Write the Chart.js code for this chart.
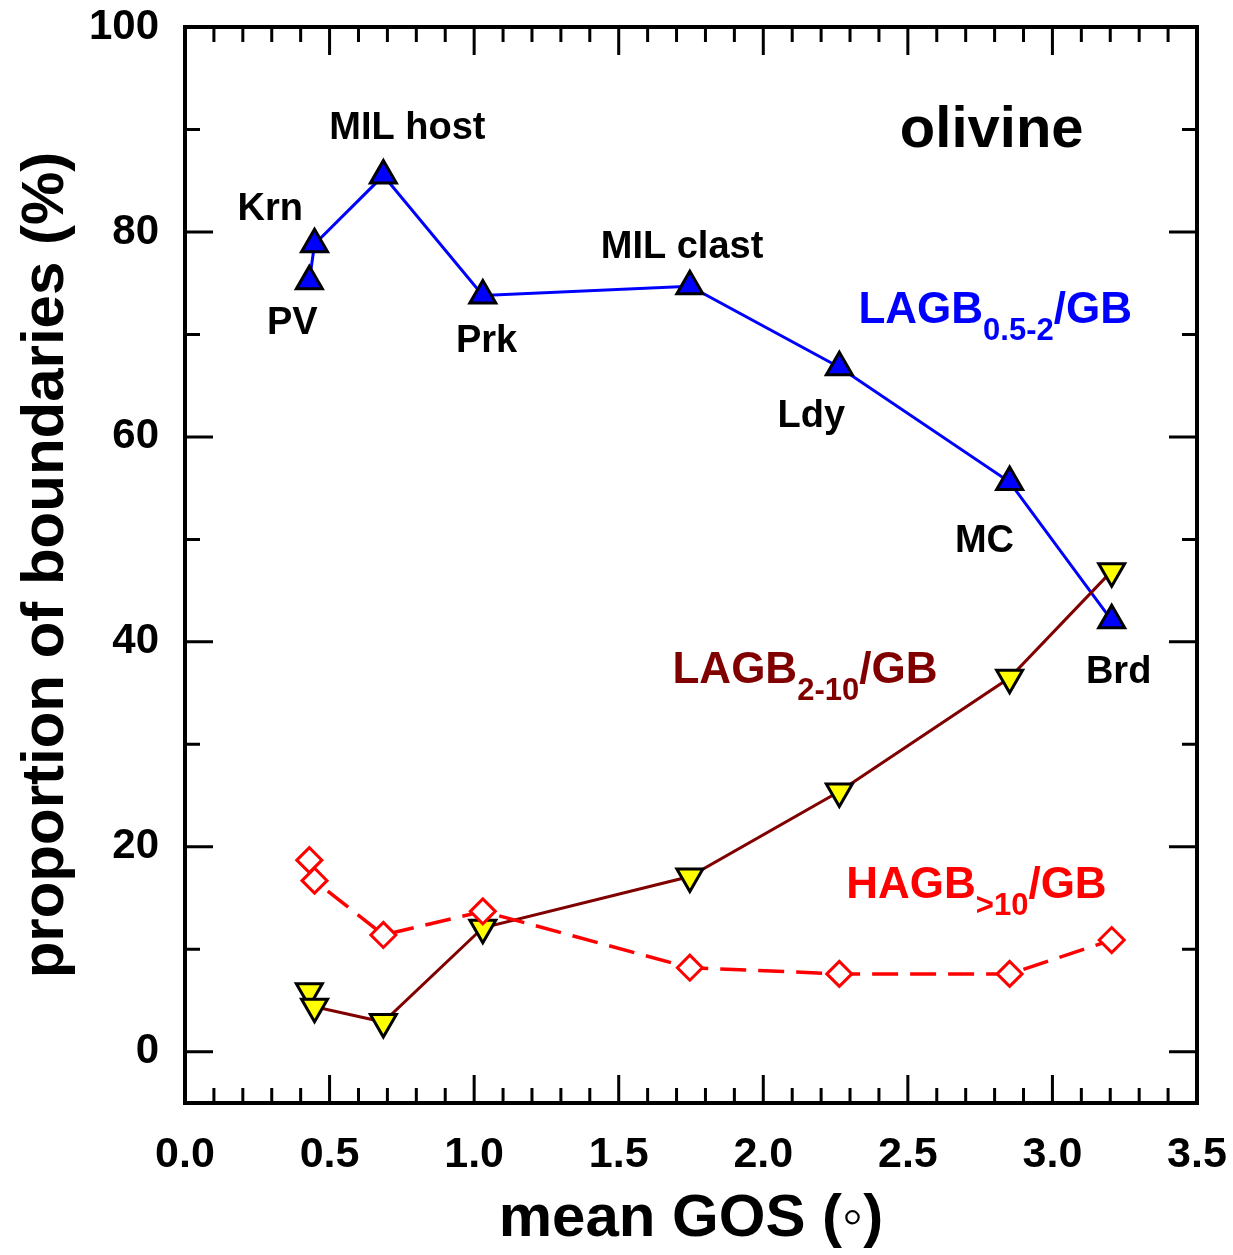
<!DOCTYPE html>
<html>
<head>
<meta charset="utf-8">
<script src="https://cdn.jsdelivr.net/npm/chart.js@4.4.1/dist/chart.umd.min.js"></script>
<style>
  html, body { margin: 0; padding: 0; background: #fff; }
  #contenedor { width: 1233px; height: 1255px; }
</style>
</head>
<body>
<div id="contenedor"><canvas id="grafico"></canvas></div>
<script>
// Muestras y GOS medio (grados)
const muestras = ["PV", "Krn", "MIL host", "Prk", "MIL clast", "Ldy", "MC", "Brd"];
const gosMedio = [0.43, 0.448, 0.686, 1.03, 1.746, 2.263, 2.852, 3.205];

// Proporcion de bordes (%) por tipo
const lagbBajo = [75.2, 78.8, 85.5, 73.8, 74.7, 66.8, 55.6, 42.1];   // LAGB 0.5-2
const lagbAlto = [5.9, 4.4, 2.9, 12.1, 17.1, 25.4, 36.5, 46.9];      // LAGB 2-10
const hagb = [18.7, 16.7, 11.4, 13.7, 8.2, 7.6, 7.6, 10.9];          // HAGB >10

const ticksX = [0, 0.5, 1, 1.5, 2, 2.5, 3, 3.5];
const ticksY = [0, 20, 40, 60, 80, 100];

// Donde va el nombre de cada muestra (en unidades de los ejes)
const posNombres = [
  [0.371, 71.1], [0.295, 82.2], [0.769, 90.1], [1.043, 69.3],
  [1.719, 78.5], [2.166, 62.0], [2.765, 49.8], [3.229, 37.0],
];

const FUENTE = '"Liberation Sans", Arial, sans-serif';

const puntos = (ys) => gosMedio.map((x, i) => ({ x, y: ys[i] }));

// Etiquetas de series con subindice
const rotulos = [
  { base: "LAGB", sub: "0.5-2", fin: "/GB", x: 2.329, y: 71.1, color: "#0000ff" },
  { base: "LAGB", sub: "2-10", fin: "/GB", x: 1.686, y: 36.0, color: "#800000" },
  { base: "HAGB", sub: ">10", fin: "/GB", x: 2.287, y: 15.0, color: "#ff0000" },
];

const marco = {
  id: "marco",
  beforeDatasetsDraw(chart) {
    const { ctx, chartArea: a, scales } = chart;
    ctx.save();
    ctx.strokeStyle = "#000";
    ctx.lineCap = "butt";

    // ticks hacia adentro en los cuatro lados
    ctx.lineWidth = 3;
    ctx.beginPath();
    for (let i = 1; i < 35; i++) {
      const v = i / 10;
      const px = scales.x.getPixelForValue(v);
      const largo = i % 5 === 0 ? 28 : 15;
      ctx.moveTo(px, a.bottom); ctx.lineTo(px, a.bottom - largo);
      ctx.moveTo(px, a.top); ctx.lineTo(px, a.top + largo);
    }
    for (let v = 0; v < 100; v += 10) {
      const py = scales.y.getPixelForValue(v);
      const largo = v % 20 === 0 ? 28 : 15;
      ctx.moveTo(a.left, py); ctx.lineTo(a.left + largo, py);
      ctx.moveTo(a.right, py); ctx.lineTo(a.right - largo, py);
    }
    ctx.stroke();

    ctx.lineWidth = 4;
    ctx.strokeRect(a.left, a.top, a.right - a.left, a.bottom - a.top);
    ctx.restore();
  },
  afterDatasetsDraw(chart) {
    const { ctx, scales } = chart;
    const sx = (v) => scales.x.getPixelForValue(v);
    const sy = (v) => scales.y.getPixelForValue(v);
    ctx.save();
    ctx.fillStyle = "#000";
    ctx.textAlign = "center";
    ctx.textBaseline = "middle";
    ctx.font = `bold 38px ${FUENTE}`;
    muestras.forEach((m, i) => {
      ctx.fillText(m, sx(posNombres[i][0]), sy(posNombres[i][1]));
    });

    ctx.font = `bold 58px ${FUENTE}`;
    ctx.fillText("olivine", sx(2.79), sy(89.9));

    ctx.textAlign = "left";
    ctx.textBaseline = "alphabetic";
    rotulos.forEach((r) => {
      let x = sx(r.x);
      const y = sy(r.y);
      ctx.fillStyle = r.color;
      ctx.font = `bold 44px ${FUENTE}`;
      ctx.fillText(r.base, x, y);
      x += ctx.measureText(r.base).width;
      ctx.font = `bold 31px ${FUENTE}`;
      ctx.fillText(r.sub, x, y + 17);
      x += ctx.measureText(r.sub).width;
      ctx.font = `bold 44px ${FUENTE}`;
      ctx.fillText(r.fin, x, y);
    });
    ctx.restore();
  },
};

const ctx = document.getElementById("grafico").getContext("2d");

new Chart(ctx, {
  type: "line",
  data: {
    datasets: [
      {
        label: "HAGB>10/GB",
        data: puntos(hagb),
        borderColor: "#ff0000",
        borderWidth: 3.5,
        borderDash: [26, 12],
        pointStyle: "rectRot",
        pointRadius: 12.5,
        pointBackgroundColor: "#ffffff",
        pointBorderColor: "#ff0000",
        pointBorderWidth: 3,
        order: 0,
      },
      {
        label: "LAGB2-10/GB",
        data: puntos(lagbAlto),
        borderColor: "#800000",
        borderWidth: 3,
        pointStyle: "triangle",
        rotation: 180,
        pointRadius: 15,
        pointBackgroundColor: "#ffff00",
        pointBorderColor: "#000000",
        pointBorderWidth: 3,
        order: 1,
      },
      {
        label: "LAGB0.5-2/GB",
        data: puntos(lagbBajo),
        borderColor: "#0000ff",
        borderWidth: 3,
        pointStyle: "triangle",
        pointRadius: 15,
        pointBackgroundColor: "#0000ff",
        pointBorderColor: "#000000",
        pointBorderWidth: 3,
        order: 2,
      },
    ],
  },
  options: {
    responsive: true,
    maintainAspectRatio: false,
    animation: false,
    tension: 0,
    layout: { padding: { top: 27, right: 36, bottom: 0, left: 0 } },
    plugins: {
      legend: { display: false },
      tooltip: { enabled: false },
    },
    scales: {
      x: {
        type: "linear",
        min: 0,
        max: 3.5,
        grid: { display: false, drawTicks: false },
        border: { display: false },
        afterBuildTicks: (s) => { s.ticks = ticksX.map((v) => ({ value: v })); },
        afterFit: (s) => {
          s.height = 152;
          s.paddingLeft = 0;
          s.paddingRight = 0;
        },
        ticks: {
          autoSkip: false,
          maxRotation: 0,
          padding: 26,
          color: "#000",
          font: { family: FUENTE, size: 43, weight: "bold" },
          callback: (v) => Number(v).toFixed(1),
        },
        title: {
          display: true,
          text: "mean GOS (\u25E6)",
          color: "#000",
          font: { family: FUENTE, size: 60, weight: "bold" },
          padding: { top: 0, bottom: 0 },
        },
      },
      y: {
        type: "linear",
        min: -5,
        max: 100,
        grid: { display: false, drawTicks: false },
        border: { display: false },
        afterBuildTicks: (s) => { s.ticks = ticksY.map((v) => ({ value: v })); },
        afterFit: (s) => {
          s.width = 185;
          s.paddingTop = 0;
          s.paddingBottom = 0;
        },
        ticks: {
          padding: 26,
          color: "#000",
          font: { family: FUENTE, size: 42, weight: "bold" },
        },
        title: {
          display: true,
          text: "proportion of boundaries (%)",
          color: "#000",
          font: { family: FUENTE, size: 60, weight: "bold" },
          padding: { top: 10, bottom: 0 },
        },
      },
    },
  },
  plugins: [marco],
});
</script>
</body>
</html>
